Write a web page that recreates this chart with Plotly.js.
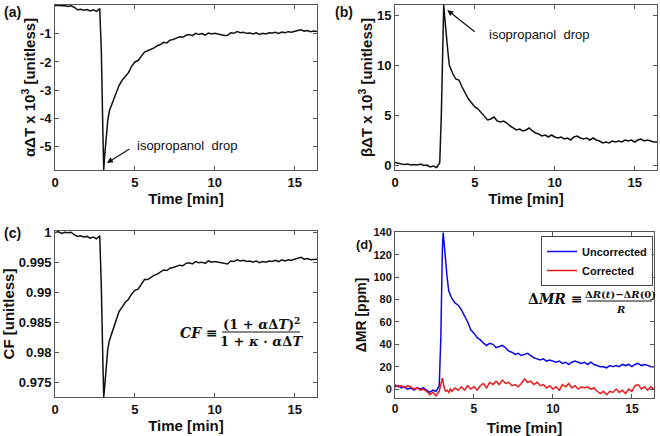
<!DOCTYPE html>
<html>
<head>
<meta charset="utf-8">
<script src="https://cdn.plot.ly/plotly-3.0.1.min.js"></script>
<style>
  html, body { margin: 0; padding: 0; background: #fff; }
  #chart { width: 660px; height: 436px; }
</style>
</head>
<body>
<div id="chart"></div>
<script>
// temps commun aux quatre panneaux [min]
const timeMin = [0, 0.2, 0.4, 0.6, 0.8, 1.0, 1.2, 1.4, 1.6, 1.8, 2.0, 2.2, 2.4, 2.6, 2.8,
  2.9, 3.0, 3.05, 3.1, 3.2, 3.3, 3.4, 3.5, 3.6, 3.8,
  4.0, 4.2, 4.4, 4.6, 4.8, 5.0, 5.2, 5.4, 5.6, 5.8, 6.0, 6.2, 6.4, 6.6, 6.8,
  7.0, 7.2, 7.4, 7.6, 7.8, 8.0, 8.2, 8.4, 8.6, 8.8, 9.0, 9.2, 9.4, 9.6, 9.8,
  10.0, 10.2, 10.4, 10.6, 10.8, 11.0, 11.2, 11.4, 11.6, 11.8, 12.0, 12.2, 12.4, 12.6, 12.8,
  13.0, 13.2, 13.4, 13.6, 13.8, 14.0, 14.2, 14.4, 14.6, 14.8, 15.0, 15.2, 15.4, 15.6, 15.8,
  16.0, 16.2, 16.4];

// (a) alpha dT x 10^3
const alphaDT = [0.0, 0.02, 0.0, 0.01, -0.02, 0.0, -0.05, -0.14, -0.12, -0.16, -0.13, -0.18, -0.14, -0.2, -0.1,
  -1.6, -4.6, -5.85, -5.4, -4.7, -4.1, -3.75, -3.6, -3.45, -3.15,
  -2.85, -2.65, -2.5, -2.38, -2.15, -2.0, -1.95, -1.78, -1.65, -1.6, -1.55, -1.5, -1.42, -1.38, -1.3,
  -1.32, -1.22, -1.2, -1.15, -1.1, -1.12, -1.05, -1.02, -1.06, -0.98, -1.02, -0.99, -1.04, -0.97, -1.0,
  -0.98, -1.0, -1.02, -1.06, -1.05, -0.96, -0.98, -0.92, -0.96, -0.94, -0.98, -0.97, -1.0, -0.96, -1.02,
  -0.98, -1.0, -0.96, -0.97, -0.94, -0.98, -0.93, -0.96, -0.92, -0.94, -0.9, -0.88, -0.85, -0.9, -0.88,
  -0.92, -0.9, -0.91];

// (b) beta dT x 10^3
const betaDT = [0.25, 0.15, 0.1, 0.05, 0.1, 0.0, 0.05, 0.0, 0.1, -0.05, 0.0, -0.2, -0.1, -0.25, 0.2,
  5.0, 14.0, 16.0, 15.0, 12.8, 11.5, 10.0, 9.6, 9.2, 8.6,
  8.5, 7.8, 7.2, 6.6, 6.2, 5.8, 5.6, 5.2, 4.8, 4.5, 4.6, 4.8, 4.4, 4.3, 4.4,
  4.2, 3.9, 3.7, 3.5, 3.6, 3.4, 3.5, 3.7, 3.4, 3.2, 3.1, 2.9, 3.0, 2.8, 3.0,
  2.8, 2.7, 2.8, 2.6, 2.7, 2.5, 2.8, 2.9, 2.7, 2.6, 2.7, 2.5, 2.7, 2.5, 2.4,
  2.2, 2.3, 2.2, 2.4, 2.3, 2.4, 2.3, 2.5, 2.4, 2.5, 2.3, 2.5, 2.6, 2.4, 2.5,
  2.4, 2.3, 2.3];

// (c) facteur de correction
const corrFactor = [1.0, 1.0002, 0.9999, 1.0001, 1.0, 1.0001, 0.9997, 0.9994, 0.9995, 0.9993, 0.9994, 0.9991, 0.9993, 0.999, 0.9995,
  0.991, 0.978, 0.9726, 0.974, 0.977, 0.9805, 0.982, 0.9828, 0.9836, 0.9852,
  0.9868, 0.9876, 0.9884, 0.9889, 0.9898, 0.9904, 0.9906, 0.9914, 0.9922, 0.9922, 0.9926, 0.9929, 0.9931, 0.9935, 0.9938,
  0.9937, 0.9941, 0.9942, 0.9944, 0.9946, 0.9945, 0.9949, 0.995, 0.9948, 0.9952, 0.995, 0.9951, 0.9949, 0.9953, 0.9951,
  0.9952, 0.9951, 0.995, 0.9948, 0.9948, 0.9953, 0.9952, 0.9955, 0.9953, 0.9954, 0.9952, 0.9953, 0.9951, 0.9953, 0.995,
  0.9952, 0.9951, 0.9953, 0.9952, 0.9954, 0.9952, 0.9955, 0.9953, 0.9955, 0.9954, 0.9956, 0.9957, 0.9959, 0.9956, 0.9957,
  0.9955, 0.9956, 0.9956];

// (d) dMR [ppm]
const mrUncorrected = [2, 3, 1, 2, 0, 1, -1, 1, 0, 1, -1, -3, -1, -2, 3,
  45, 125, 140, 132, 112, 100, 88, 84, 81, 77,
  75, 71, 66, 60, 53, 50, 46, 44, 41, 39, 41, 40, 37, 38, 39,
  37, 34, 33, 31, 32, 30, 31, 32, 30, 28, 27, 26, 27, 25, 26,
  25, 24, 25, 23, 24, 22, 24, 25, 24, 23, 24, 22, 24, 22, 21,
  20, 20, 19, 21, 20, 21, 20, 22, 21, 22, 20, 22, 23, 21, 22,
  21, 20, 20];

const mrCorrected = [4, 2, 3, 1, 3, 2, 0, 1, -1, 0, -2, -5, -3, -6, -2,
  3, 10, 6, 2, -2, -1, -3, 0, -2, 1,
  -1, 2, -1, 3, 0, 2, -1, 3, 5, 1, 6, 4, 7, 4, 8,
  5, 6, 3, 4, 2, 5, 9, 6, 7, 4, 6, 3, 4, 1, 3,
  0, 2, -1, 4, 2, 5, 1, 3, 0, 2, 1, 2, 0, 1, -2,
  -4, -2, -5, -2, -3, 0, -3, -1, -4, 0, -2, 3, 4, 0, 2,
  -1, 2, 0];

// graduations
const timeTicks = [0, 5, 10, 15];
const alphaTicks = [0, -1, -2, -3, -4, -5];
const alphaTickText = ['0', '-1', '-2', '-3', '-4', '-5'];
const betaTicks = [0, 5, 10, 15];
const cfTicks = [1, 0.995, 0.99, 0.985, 0.98, 0.975];
const cfTickText = ['1', '0.995', '0.99', '0.985', '0.98', '0.975'];
const mrTicks = [0, 20, 40, 60, 80, 100, 120, 140];

const FONT = 'Liberation Sans, Arial, sans-serif';
const MATH = 'DejaVu Serif, serif';

// axe style Matlab (boîte, graduations intérieures)
function axisStyle(domain, range, extra) {
    return Object.assign({
        domain: domain,
        range: range,
        showgrid: false,
        zeroline: false,
        showline: true,
        mirror: 'ticks',
        linecolor: '#555',
        linewidth: 1,
        ticks: 'inside',
        ticklen: 4,
        tickcolor: '#555',
        tickfont: { family: FONT, size: 13, color: '#111', weight: 'bold' }
    }, extra);
}

function axTitle(text, size, standoff) {
    return { text: text, font: { family: FONT, size: size, color: '#111', weight: 'bold' }, standoff: standoff };
}

const lineBlack = { color: '#111', width: 1.5 };

const traces = [
    { x: timeMin, y: alphaDT, xaxis: 'x', yaxis: 'y', mode: 'lines', line: lineBlack, showlegend: false },
    { x: timeMin, y: betaDT, xaxis: 'x2', yaxis: 'y2', mode: 'lines', line: lineBlack, showlegend: false },
    { x: timeMin, y: corrFactor, xaxis: 'x3', yaxis: 'y3', mode: 'lines', line: lineBlack, showlegend: false },
    { x: timeMin, y: mrUncorrected, xaxis: 'x4', yaxis: 'y4', mode: 'lines',
      line: { color: 'rgb(10,10,225)', width: 1.5 }, name: 'Uncorrected' },
    { x: timeMin, y: mrCorrected, xaxis: 'x4', yaxis: 'y4', mode: 'lines',
      line: { color: 'rgb(235,25,25)', width: 1.5 }, name: 'Corrected' }
];

// positions des panneaux (fraction du papier)
const colL = [55 / 660, 317 / 660];
const colR = [395 / 660, 657 / 660];
const rowT = [1 - 170 / 436, 1 - 5 / 436];
const rowB = [1 - 397 / 436, 1 - 231 / 436];

function paperText(text, x, y, opts) {
    return Object.assign({
        text: text, xref: 'paper', yref: 'paper', x: x, y: y,
        showarrow: false, xanchor: 'center', yanchor: 'middle',
        font: { family: FONT, size: 13, color: '#111' }
    }, opts);
}

const boldFont = { family: FONT, size: 14, color: '#111', weight: 'bold' };
const mathFont = { family: MATH, size: 13, color: '#111', weight: 'bold' };
const mathFontSmall = { family: MATH, size: 10, color: '#111', weight: 'bold' };

const annotations = [
    paperText('(a)', 2 / 660, 1 - 12 / 436, { xanchor: 'left', font: boldFont }),
    paperText('(b)', 333 / 660, 1 - 12 / 436, { xanchor: 'left', font: boldFont }),
    paperText('(c)', 2 / 660, 1 - 233 / 436, { xanchor: 'left', font: boldFont }),
    paperText('(d)', 354 / 660, 1 - 244 / 436, { xanchor: 'left',
        font: Object.assign({}, boldFont, { size: 13 }) }),

    // flèche (a)
    { xref: 'x', yref: 'y', x: 3.25, y: -5.6, ax: 24, ay: -15, text: '', showarrow: true,
      arrowhead: 2, arrowsize: 1, arrowwidth: 1.2, arrowcolor: '#111' },
    { xref: 'x', yref: 'y', x: 5.0, y: -4.96, text: 'isopropanol\u00a0 drop', showarrow: false,
      xanchor: 'left', yanchor: 'middle', font: { family: FONT, size: 13, color: '#111' } },

    // flèche (b)
    { xref: 'x2', yref: 'y2', x: 3.27, y: 15.5, ax: 29, ay: 23, text: '', showarrow: true,
      arrowhead: 2, arrowsize: 1, arrowwidth: 1.2, arrowcolor: '#111' },
    { xref: 'x2', yref: 'y2', x: 5.75, y: 13.07, text: 'isopropanol\u00a0 drop', showarrow: false,
      xanchor: 'left', yanchor: 'middle', font: { family: FONT, size: 13, color: '#111' } },

    // formule CF
    paperText('<i>CF</i> ≡', 220 / 660, 1 - 333 / 436, { xanchor: 'right', font: Object.assign({}, mathFont, { size: 14 }) }),
    paperText('(1 + <i>α</i>Δ<i>T</i>)<sup>2</sup>', 261 / 660, 1 - 323 / 436, { font: mathFont }),
    paperText('1 + <i>κ</i> · <i>α</i>Δ<i>T</i>', 261 / 660, 1 - 341 / 436, { font: mathFont }),

    // formule dMR
    paperText('Δ<i>MR</i> ≡', 585 / 660, 1 - 299 / 436, { xanchor: 'right', font: Object.assign({}, mathFont, { size: 14 }) }),
    paperText('Δ<i>R</i>(<i>t</i>)−Δ<i>R</i>(0)', 620 / 660, 1 - 294 / 436, { font: mathFontSmall }),
    paperText('<i>R</i>', 620 / 660, 1 - 309 / 436, { font: mathFontSmall })
];

const shapes = [
    { type: 'line', xref: 'paper', yref: 'paper', x0: 222 / 660, x1: 300 / 660, y0: 1 - 332 / 436, y1: 1 - 332 / 436,
      line: { color: '#111', width: 1 } },
    { type: 'line', xref: 'paper', yref: 'paper', x0: 587 / 660, x1: 652 / 660, y0: 1 - 301 / 436, y1: 1 - 301 / 436,
      line: { color: '#111', width: 1 } }
];

const layout = {
    width: 660,
    height: 436,
    margin: { l: 0, r: 0, t: 0, b: 0 },
    paper_bgcolor: '#fff',
    plot_bgcolor: '#fff',
    font: { family: FONT, color: '#111' },
    showlegend: true,
    legend: {
        x: 653 / 660, y: 1 - 236 / 436, xanchor: 'right', yanchor: 'top',
        bgcolor: '#fff', bordercolor: '#444', borderwidth: 1,
        font: { family: FONT, size: 11, color: '#111', weight: 'bold' },
        tracegroupgap: 0
    },
    xaxis: axisStyle(colL, [0, 16.4], { anchor: 'y', tickvals: timeTicks, title: axTitle('Time [min]', 15, 1) }),
    yaxis: axisStyle(rowT, [-5.85, 0.03], { anchor: 'x', tickvals: alphaTicks, ticktext: alphaTickText,
        title: axTitle('αΔT x 10<sup>3</sup> [unitless]', 15, 0) }),
    xaxis2: axisStyle(colR, [0, 16.4], { anchor: 'y2', tickvals: timeTicks, title: axTitle('Time [min]', 15, 1) }),
    yaxis2: axisStyle(rowT, [-0.5, 16], { anchor: 'x2', tickvals: betaTicks,
        title: axTitle('βΔT x 10<sup>3</sup> [unitless]', 15, 0) }),
    xaxis3: axisStyle(colL, [0, 16.4], { anchor: 'y3', tickvals: timeTicks, title: axTitle('Time [min]', 15, 3) }),
    yaxis3: axisStyle(rowB, [0.9726, 1.0003], { anchor: 'x3', tickvals: cfTicks, ticktext: cfTickText,
        title: axTitle('CF [unitless]', 15, 2) }),
    xaxis4: axisStyle([395 / 660, 654 / 660], [0, 16.4], { anchor: 'y4', tickvals: timeTicks,
        tickfont: { family: FONT, size: 12, color: '#111', weight: 'bold' },
        title: axTitle('Time [min]', 15, 8) }),
    yaxis4: axisStyle([1 - 398 / 436, 1 - 232 / 436], [-8, 140.5], { anchor: 'x4', tickvals: mrTicks,
        tickfont: { family: FONT, size: 11, color: '#111', weight: 'bold' },
        title: axTitle('ΔMR [ppm]', 14, 3) }),
    annotations: annotations,
    shapes: shapes
};

Plotly.newPlot('chart', traces, layout, { displayModeBar: false, staticPlot: true });
</script>
</body>
</html>
